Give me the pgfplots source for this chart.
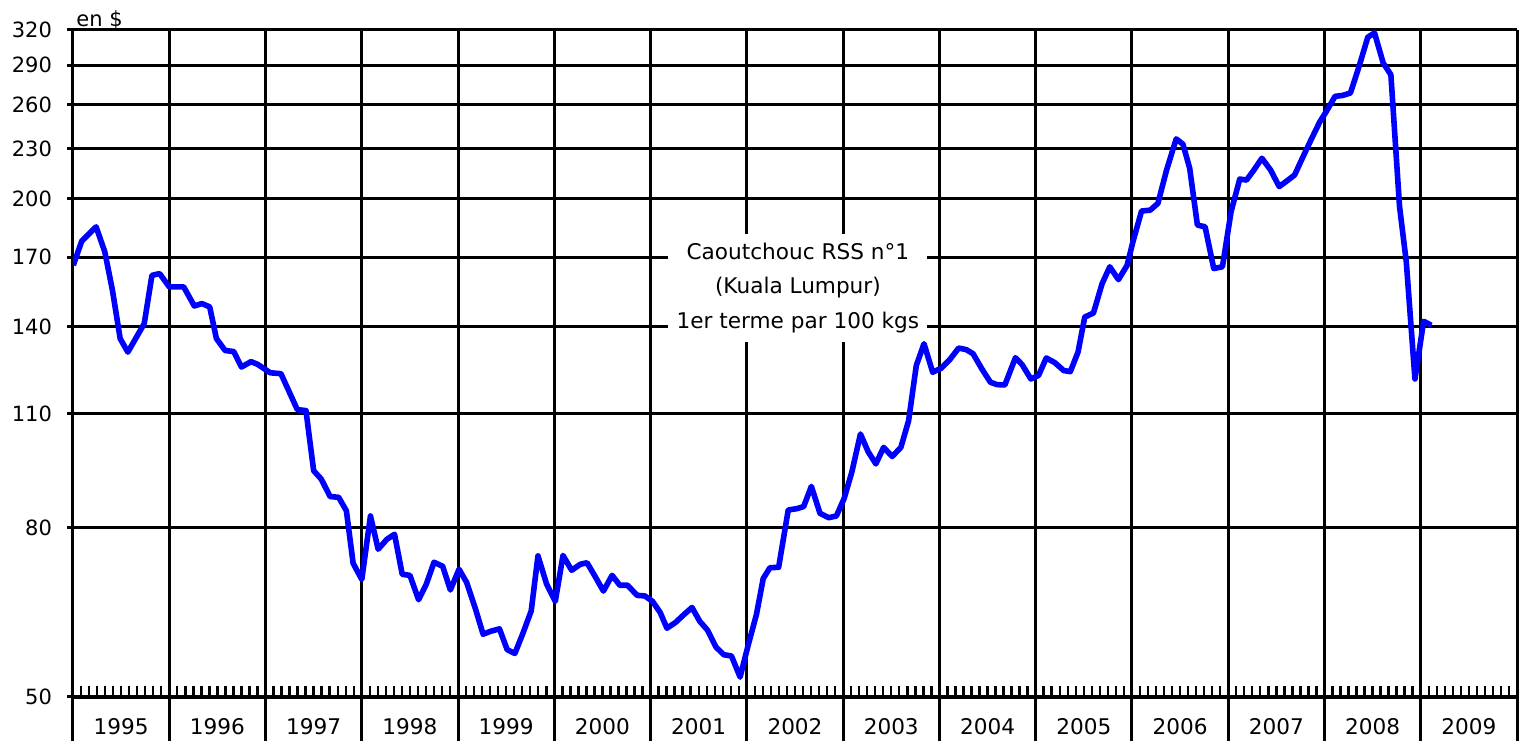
\documentclass[border=0pt]{standalone}
\usepackage{pgfplots}
\pgfplotsset{compat=1.18}
\usepackage{fontspec}
\setmainfont{DejaVu Sans}
\usetikzlibrary{calc}
\pgfplotstableread{
x v
1995.003 166.2
1995.09 177.7
1995.24 185.0
1995.33 172.6
1995.41 155.0
1995.49 135.5
1995.57 130.5
1995.74 141.3
1995.82 161.6
1995.90 162.4
1996.00 156.5
1996.15 156.5
1996.26 148.4
1996.34 149.4
1996.42 148.0
1996.49 135.5
1996.58 131.1
1996.67 130.7
1996.75 125.2
1996.85 127.1
1996.92 126.1
1997.05 123.2
1997.16 122.9
1997.33 111.2
1997.42 110.9
1997.50 93.8
1997.58 91.6
1997.67 87.3
1997.76 87.1
1997.84 83.9
1997.91 72.5
1998.00 69.3
1998.09 82.7
1998.17 75.4
1998.26 77.5
1998.34 78.6
1998.42 70.3
1998.50 70.1
1998.59 65.5
1998.67 68.4
1998.75 72.7
1998.84 71.9
1998.92 67.3
1999.01 71.3
1999.09 68.7
1999.18 63.9
1999.26 59.5
1999.34 60.0
1999.43 60.4
1999.51 57.0
1999.59 56.4
1999.67 59.5
1999.76 63.5
1999.83 74.0
1999.92 68.4
2000.01 65.2
2000.09 74.1
2000.18 71.1
2000.27 72.3
2000.34 72.6
2000.42 70.0
2000.51 67.1
2000.60 70.1
2000.68 68.2
2000.76 68.2
2000.86 66.3
2000.94 66.2
2001.02 65.2
2001.10 63.2
2001.17 60.5
2001.26 61.5
2001.35 62.9
2001.43 64.1
2001.51 61.7
2001.59 60.2
2001.68 57.4
2001.76 56.2
2001.84 56.0
2001.93 52.8
2002.01 57.5
2002.10 62.9
2002.17 69.5
2002.24 71.6
2002.33 71.7
2002.43 84.1
2002.52 84.4
2002.59 84.9
2002.67 89.8
2002.76 83.3
2002.85 82.3
2002.93 82.7
2003.01 86.8
2003.09 93.4
2003.18 103.9
2003.26 98.9
2003.34 95.6
2003.42 100.1
2003.51 97.6
2003.60 100.1
2003.68 107.8
2003.76 125.7
2003.84 133.6
2003.93 123.4
2004.02 124.8
2004.11 127.9
2004.20 132.0
2004.28 131.4
2004.35 129.9
2004.44 124.6
2004.53 120.0
2004.60 119.2
2004.68 119.1
2004.79 128.5
2004.86 126.0
2004.95 121.1
2005.03 122.3
2005.11 128.4
2005.20 126.7
2005.29 124.0
2005.36 123.6
2005.44 130.5
2005.51 143.9
2005.60 145.5
2005.69 157.9
2005.77 165.5
2005.86 159.7
2005.95 166.2
2006.01 177.4
2006.10 193.3
2006.19 193.8
2006.27 197.5
2006.36 216.7
2006.46 236.3
2006.53 232.8
2006.60 217.7
2006.68 185.9
2006.76 185.0
2006.85 164.7
2006.94 165.5
2007.03 193.0
2007.12 211.3
2007.19 210.7
2007.26 216.1
2007.35 223.9
2007.44 216.7
2007.53 206.9
2007.61 210.2
2007.69 213.7
2007.77 223.9
2007.86 235.6
2007.95 247.6
2008.02 255.1
2008.11 266.0
2008.19 266.7
2008.27 268.5
2008.36 289.3
2008.45 313.6
2008.52 317.4
2008.61 291.9
2008.69 282.5
2008.78 195.7
2008.85 167.8
2008.94 121.1
2009.03 142.2
2009.11 140.6
}\rubber
\begin{document}
\begin{tikzpicture}
\useasboundingbox (-36.5pt,0pt) rectangle (725pt,370.5pt);
\begin{axis}[
  at={(0pt,0pt)}, anchor=south west,
  scale only axis, width=722pt, height=355.5pt,
  xmin=1995, xmax=2010, ymode=log, ymin=44.2, ymax=320,
  separate axis lines,
  x axis line style={draw=none},
  y axis line style={black, line width=1.5pt},
  xtick={1995,1996,...,2010}, xticklabels={},
  xtick style={draw=none},
  xmajorgrids, ymajorgrids,
  grid style={black, line width=1.5pt},
  ytick={50,80,110,140,170,200,230,260,290,320},
  yticklabels={50,80,110,140,170,200,230,260,290,320},
  ytick pos=left, tick align=outside,
  major tick length=3pt,
  ytick style={black, line width=1.5pt},
  /pgf/number format/assume math mode=true,
  yticklabel style={font=\fontsize{10.5}{12}\selectfont, xshift=-4pt},
  clip=true,
]
\node[fill=white, inner sep=0pt, minimum width=129.5pt, minimum height=54pt,
  align=center, font=\fontsize{10.8}{17.25}\selectfont]
  at (axis cs:2002.53,156.2) {Caoutchouc RSS n°1\\(Kuala Lumpur)\\1er terme par 100 kgs};
\addplot[color={rgb,1:red,0;green,0;blue,1}, line width=2.8pt, line join=round, mark=none] table[x=x, y=v] {\rubber};
\draw[black, line width=2pt] (axis cs:1995,50) -- (axis cs:2010,50);
\coordinate (A) at (axis cs:1995,50);
\coordinate (B) at (axis cs:2010,50);
\coordinate (T) at (axis cs:1995,320);
\pgfplotsinvokeforeach{1995,...,2009}{
  \node[font=\fontsize{10.8}{12}\selectfont] at (axis cs:#1.5,45.98) {#1};
}
\end{axis}
\foreach \i in {1,...,179} {
  \draw[black, line width=1.2pt] ($(A)!\i/180!(B)$) -- ++(0,5.5pt);
}
\node[anchor=south west, inner sep=0pt, font=\fontsize{10.5}{12}\selectfont] at ($(T)+(1.5pt,0pt)$) {en \$};
\end{tikzpicture}
\end{document}
